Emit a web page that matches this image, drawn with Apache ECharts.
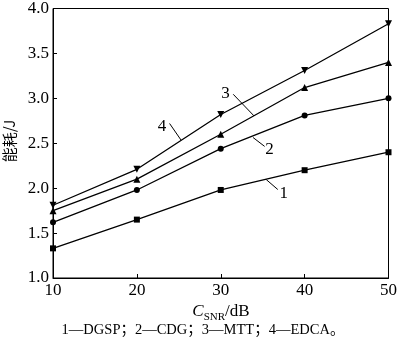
<!DOCTYPE html>
<html><head><meta charset="utf-8">
<script src="https://cdn.jsdelivr.net/npm/echarts@6/dist/echarts.min.js"></script>
<style>html,body{margin:0;padding:0;background:#fff}#c{width:400px;height:343px}</style>
</head><body><div id="c"></div>
<script>
const categories = [10, 20, 30, 40, 50];
const dgsp = [1.33, 1.65, 1.98, 2.2, 2.4];
const cdg = [1.62, 1.98, 2.44, 2.81, 3.0];
const mtt = [1.75, 2.1, 2.6, 3.12, 3.4];
const edca = [1.81, 2.21, 2.82, 3.31, 3.83];
const seriesNames = ['DGSP', 'CDG', 'MTT', 'EDCA'];
// callout labels: [text, labelX, labelY, leaderStartX, leaderStartY, leaderEndX, leaderEndY] in data units
const callouts = [
  ['4', 22.99, 2.69, 23.9, 2.72, 25.27, 2.535],
  ['3', 30.58, 3.056, 31.49, 3.045, 33.97, 2.804],
  ['2', 35.82, 2.428, 33.85, 2.564, 35.23, 2.465],
  ['1', 37.51, 1.938, 35.42, 2.096, 36.8, 1.985]
];
const caption = '1—DGSP；2—CDG；3—MTT；4—EDCA。';

const chart = echarts.init(document.getElementById('c'));
const serif = 'Liberation Serif';
function mk(name, data, symbol, size, rot) {
  return {
    name, type: 'line', data: categories.map((x, i) => [x, data[i]]),
    symbol, symbolSize: size, symbolRotate: rot || 0, showAllSymbol: true,
    lineStyle: { color: '#000', width: 1.3 }, itemStyle: { color: '#000' },
    animation: false, z: 3
  };
}
chart.setOption({
  backgroundColor: '#fff',
  animation: false,
  grid: { left: 53, right: 8, top: 7, bottom: 65, show: true, borderColor: '#000', borderWidth: 1 },
  xAxis: {
    type: 'value', min: 10, max: 50, interval: 10,
    axisLine: { lineStyle: { color: '#000', width: 1 } },
    axisTick: { inside: true, length: 4, lineStyle: { color: '#000' } },
    axisLabel: { color: '#000', fontFamily: serif, fontSize: 17, margin: 4 },
    splitLine: { show: false }
  },
  yAxis: {
    type: 'value', min: 1.0, max: 4.0, interval: 0.5,
    axisLine: { show: true, lineStyle: { color: '#000', width: 1 } },
    axisTick: { show: true, inside: true, length: 4, lineStyle: { color: '#000' } },
    axisLabel: { color: '#000', fontFamily: serif, fontSize: 17, margin: 4, formatter: v => v.toFixed(1) },
    splitLine: { show: false }
  },
  series: [
    mk(seriesNames[0], dgsp, 'rect', 6),
    mk(seriesNames[1], cdg, 'circle', 6),
    mk(seriesNames[2], mtt, 'triangle', 7),
    mk(seriesNames[3], edca, 'triangle', 7, 180)
  ]
});

const g = [];
callouts.forEach(c => {
  const p = chart.convertToPixel({ gridIndex: 0 }, [c[1], c[2]]);
  const a = chart.convertToPixel({ gridIndex: 0 }, [c[3], c[4]]);
  const b = chart.convertToPixel({ gridIndex: 0 }, [c[5], c[6]]);
  g.push({ type: 'text', x: p[0], y: p[1], style: { text: c[0], font: '17px "Liberation Serif"', fill: '#000', align: 'center', verticalAlign: 'middle' } });
  g.push({ type: 'line', shape: { x1: a[0], y1: a[1], x2: b[0], y2: b[1] }, style: { stroke: '#000', lineWidth: 1 } });
});
g.push({
  type: 'text', x: 9, y: 141, rotation: Math.PI / 2,
  style: { text: '能耗/J', font: '15px "Noto Sans CJK SC"', fill: '#000', align: 'center', verticalAlign: 'middle' }
});
g.push({
  type: 'text', x: 221, y: 303,
  style: {
    text: '{c|C}{s|SNR}{d|/dB}', align: 'center', verticalAlign: 'top',
    rich: {
      c: { font: 'italic 17px "Liberation Serif"', fill: '#000', verticalAlign: 'bottom' },
      s: { font: '11px "Liberation Serif"', fill: '#000', verticalAlign: 'bottom', padding: [0, 0, -3, 0] },
      d: { font: '17px "Liberation Serif"', fill: '#000', verticalAlign: 'bottom' }
    }
  }
});
g.push({
  type: 'text', x: 203, y: 330,
  style: { text: caption, font: '14.5px "Liberation Serif", "Noto Sans CJK SC"', fill: '#000', align: 'center', verticalAlign: 'middle' }
});
chart.setOption({ graphic: g });
</script></body></html>
